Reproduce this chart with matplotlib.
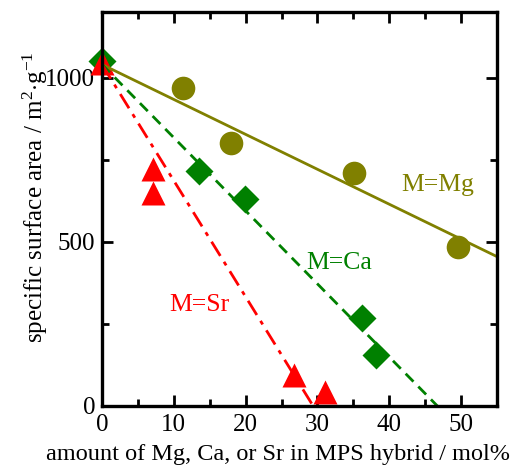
import matplotlib.pyplot as plt
from matplotlib.ticker import MultipleLocator

plt.rcParams['font.family'] = ['Liberation Serif', 'DejaVu Serif']
plt.rcParams['mathtext.fontset'] = 'custom'
plt.rcParams['mathtext.rm'] = 'Liberation Serif'
plt.rcParams['mathtext.it'] = 'Liberation Serif:italic'

# data
mg_x = [11.3, 18.0, 35.1, 49.6]
mg_y = [970, 800, 710, 483]
ca_x = [0, 13.5, 19.9, 36.2, 38.2]
ca_y = [1050, 717, 630, 267, 155]
sr_x = [0, 7.1, 7.1, 26.7, 31.0]
sr_y = [1045, 721, 648, 94, 42]

# fitted lines (end points)
mg_fit_x = [0, 55]
mg_fit_y = [1040, 455]
ca_fit_x = [0, 46.7]
ca_fit_y = [1040, 0]
sr_fit_x = [0, 29.4]
sr_fit_y = [1040, 0]

olive = '#808000'
green = '#008000'
red = '#ff0000'

fig = plt.figure(figsize=(5.17, 4.67), dpi=100)
ax = fig.add_axes([102 / 517, 1 - 406 / 467, 395 / 517, 394 / 467])

ax.plot(mg_x, mg_y, 'o', color=olive, ms=17, mec='none', clip_on=False, zorder=2.1)
ax.plot(ca_x, ca_y, 'D', color=green, ms=14.5, mec='none', clip_on=False, zorder=2.1)
ax.plot(sr_x, sr_y, '^', color=red, ms=17, mec='none', clip_on=False, zorder=2.1)

ax.plot(mg_fit_x, mg_fit_y, '-', color=olive, lw=2, zorder=2.3)
ax.plot(ca_fit_x, ca_fit_y, '--', color=green, lw=2, dashes=(4, 2.5), zorder=2.3)
ax.plot(sr_fit_x, sr_fit_y, '-.', color=red, lw=2, dashes=(6, 2.5, 1.5, 2.5), zorder=2.3)

ax.text(46.7, 673, 'M=Mg', color=olive, fontsize=18.5, ha='center', va='center')
ax.text(33.1, 435, 'M=Ca', color=green, fontsize=18.5, ha='center', va='center')
ax.text(13.5, 307, 'M=Sr', color=red, fontsize=18.5, ha='center', va='center')

ax.set_xlim(0, 55)
ax.set_ylim(0, 1200)
ax.xaxis.set_major_locator(MultipleLocator(10))
ax.xaxis.set_minor_locator(MultipleLocator(5))
ax.yaxis.set_major_locator(MultipleLocator(500))
ax.yaxis.set_minor_locator(MultipleLocator(250))
ax.tick_params(which='both', direction='in', top=True, right=True, width=2, labelsize=18)
ax.tick_params(axis='x', pad=6)
ax.tick_params(axis='y', pad=5)
ax.tick_params(which='major', length=8)
ax.tick_params(which='minor', length=5)
for s in ax.spines.values():
    s.set_linewidth(2.4)

ax.set_xlabel('amount of Mg, Ca, or Sr in MPS hybrid / mol%', fontsize=17.5, va='center')
ax.set_ylabel(r'specific surface area / m$^{2}$$\cdot$g$^{-1}$', fontsize=18, va='center')
ax.xaxis.set_label_coords(0.446, -0.124)
ax.yaxis.set_label_coords(-0.17, 0.53)

fig.savefig('out.png', dpi=100)
